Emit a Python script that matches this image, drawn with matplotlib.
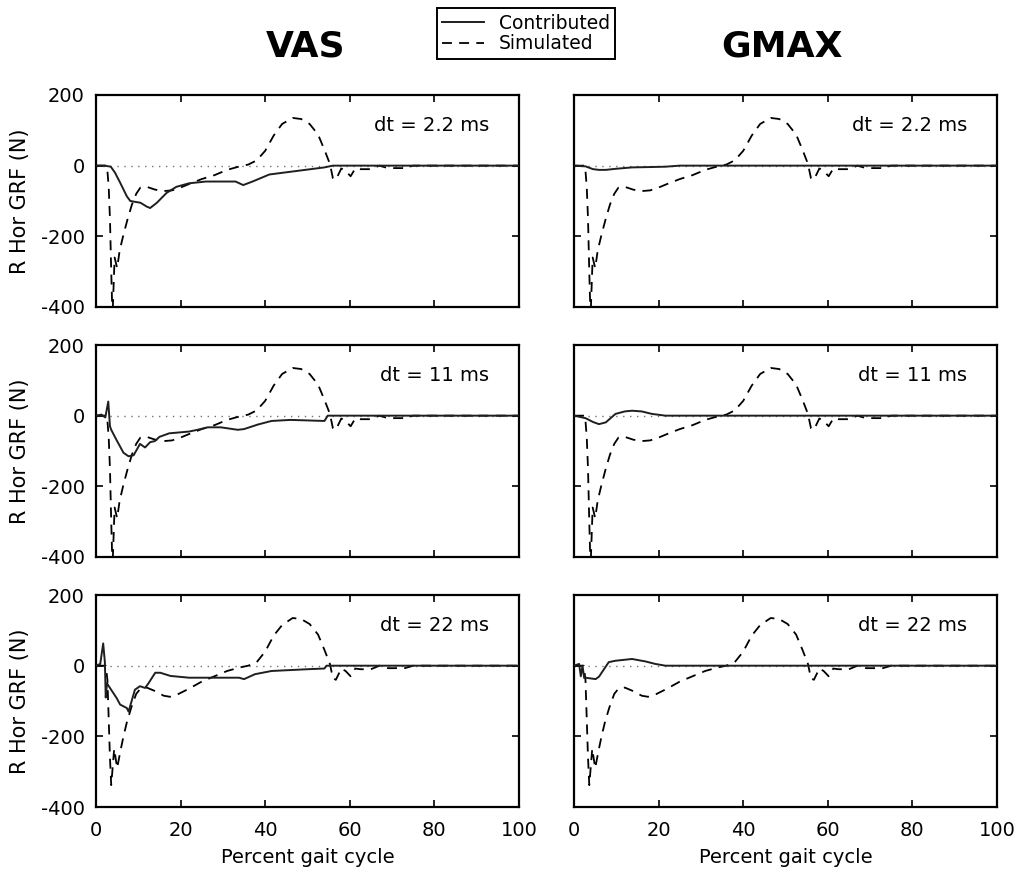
import matplotlib
matplotlib.use("Agg")
import matplotlib.pyplot as plt
from matplotlib.lines import Line2D

# simulated horizontal GRF (same curve in every panel, coarser in the dt = 22 ms row)
sim_x = [0, 2.6, 3.0, 3.3, 3.6, 3.9, 4.4, 5.0, 5.6, 6.5, 7.5, 8.5, 9.5, 10.5, 12, 14, 16, 18,
         20, 22, 25, 28, 31, 34, 36, 38, 40, 42, 44, 46.5, 48.5, 50.5, 52.5, 54, 55.3, 56,
         56.7, 58, 59, 60.2, 61.3, 62.5, 65, 67, 69, 71, 73, 75, 100]
sim_y = [0, 0, -60, -150, -300, -430, -260, -290, -240, -195, -150, -110, -80, -62, -60, -68,
         -72, -70, -62, -52, -38, -27, -12, -2, 3, 15, 42, 85, 118, 135, 132, 118, 88, 45, 5,
         -35, -40, -8, -15, -30, -8, -10, -10, 0, -7, -7, -7, 0, 0]

sim_coarse_x = [0, 2.3, 2.7, 3.0, 3.3, 3.6, 4.3, 5.0, 5.8, 6.5, 7.3, 8.3, 9.5, 10.5, 12, 14,
                16, 17.5, 19.5, 22, 25, 28, 31, 34, 36, 38, 40, 42, 44, 46.5, 48.5, 50.5, 52.5,
                54, 55.3, 56, 56.7, 58, 59, 60.2, 61.3, 62.5, 65, 67, 69, 71, 73, 75, 100]
sim_coarse_y = [0, 0, -40, -150, -260, -338, -235, -290, -240, -200, -160, -120, -80, -65, -62,
                -72, -85, -88, -80, -65, -45, -30, -15, -5, 0, 10, 40, 85, 115, 135, 132, 118,
                88, 45, 5, -35, -40, -8, -15, -30, -8, -10, -10, 0, -7, -7, -7, 0, 0]

# contributed GRF, VAS
vas_x = {
    "2.2": [0, 2, 3.5, 4.5, 5.7, 7.3, 8.1, 9.5, 10.5, 12, 12.8, 14.4, 16.7, 19, 22, 26, 30,
            33, 34.8, 37, 41, 47.5, 54, 56, 100],
    "11": [0, 1.3, 2.2, 2.9, 3.3, 3.6, 4.9, 6.5, 7.7, 8.9, 9.7, 10.4, 11.6, 12.8, 13.9, 15,
           17.3, 22, 24, 26.4, 29.5, 33.5, 35, 38.3, 41.5, 46, 54, 54.8, 100],
    "22": [0, 1.0, 1.7, 2.1, 2.3, 2.6, 3.3, 4.9, 5.7, 7.3, 7.7, 8.5, 9.2, 10.4, 11.6, 12.4,
           14, 15.2, 17.6, 22, 26, 33.8, 35, 37.6, 41.5, 50, 54, 54.5, 100],
}
vas_y = {
    "2.2": [0, 0, -3, -20, -48, -87, -100, -103, -105, -116, -120, -105, -77, -60, -50, -45,
            -45, -45, -55, -45, -25, -15, -5, 0, 0],
    "11": [0, 3, -5, 40, -30, -40, -70, -105, -115, -112, -95, -80, -90, -75, -72, -60, -50,
           -45, -40, -33, -33, -40, -38, -25, -15, -12, -15, 0, 0],
    "22": [0, 5, 63, 10, -90, -50, -63, -92, -110, -120, -130, -97, -68, -58, -63, -50, -20,
           -20, -29, -34, -34, -34, -38, -24, -15, -10, -8, 0, 0],
}

# contributed GRF, GMAX
gmax_x = {
    "2.2": [0, 2.7, 4.5, 5.9, 7.5, 9.8, 13.7, 18, 21.6, 25, 100],
    "11": [0, 2.7, 4.5, 5.9, 7.5, 9.8, 12, 13.7, 16, 18.4, 21.6, 100],
    "22": [0, 1.2, 1.6, 2.0, 2.4, 2.7, 5.1, 5.9, 8.2, 9.8, 13.7, 16.9, 19.2, 21.6, 100],
}
gmax_y = {
    "2.2": [0, -2, -10, -12, -12, -9, -5, -4, -3, 0, 0],
    "11": [0, -7, -18, -24, -19, 5, 12, 14, 12, 5, 0, 0],
    "22": [0, 5, -30, 0, -35, -34, -38, -31, 10, 14, 19, 12, 5, 0, 0],
}

time_steps = ["2.2", "11", "22"]
muscles = ["VAS", "GMAX"]
y_ticks = [-400, -200, 0, 200]
x_ticks = [0, 20, 40, 60, 80, 100]

DASH = (0, (5.5, 4.0))


def main():

    plt.rcParams["font.family"] = ["DejaVu Sans"]
    plt.rcParams["axes.unicode_minus"] = False

    fig = plt.figure(figsize=(10.18, 8.73), dpi=100)

    lefts = [0.0943, 0.5639]
    bottoms = [0.6484, 0.362, 0.0756]
    width, height = 0.4155, 0.2428

    for row, dt in enumerate(time_steps):
        for col, muscle in enumerate(muscles):
            ax = fig.add_axes([lefts[col], bottoms[row], width, height])
            ax.axhline(0, color="0.45", lw=1.0, ls=(0, (1, 4)), zorder=1)

            cx, cy = (vas_x, vas_y) if muscle == "VAS" else (gmax_x, gmax_y)
            ax.plot(cx[dt], cy[dt], color="0.12", lw=1.4, zorder=3)
            if dt == "22":
                ax.plot(sim_coarse_x, sim_coarse_y, color="black", lw=1.3, ls=DASH, zorder=2)
            else:
                ax.plot(sim_x, sim_y, color="black", lw=1.3, ls=DASH, zorder=2)

            ax.set_xlim(0, 100)
            ax.set_ylim(-400, 200)
            ax.set_xticks(x_ticks)
            ax.set_yticks(y_ticks)
            ax.tick_params(direction="in", length=5, width=1.2, top=True, right=True,
                           labelsize=14, pad=8)
            ax.tick_params(axis="x", pad=10)
            for spine in ax.spines.values():
                spine.set_linewidth(1.6)

            ax.text(0.93, 0.858, f"dt = {dt} ms", transform=ax.transAxes,
                    ha="right", va="center", fontsize=14)

            if col == 0:
                ax.set_ylabel("R Hor GRF (N)", fontsize=15)
                ax.yaxis.set_label_coords(-0.155, 0.5)
            else:
                ax.set_yticklabels([])
            if row == 2:
                ax.set_xlabel("Percent gait cycle", fontsize=14, labelpad=6)
            else:
                ax.set_xticklabels([])

    fig.text(0.3, 0.947, "VAS", ha="center", va="center", fontsize=26, fontweight="bold")
    fig.text(0.768, 0.947, "GMAX", ha="center", va="center", fontsize=26, fontweight="bold")

    handles = [
        Line2D([], [], color="0.12", lw=1.4),
        Line2D([], [], color="black", lw=1.3, ls=DASH),
    ]
    leg = fig.legend(handles, ["Contributed", "Simulated"], loc="center",
                     bbox_to_anchor=(0.5167, 0.9616), fontsize=13.5, frameon=True,
                     fancybox=False, edgecolor="black", framealpha=1, handlelength=2.2,
                     borderpad=0.3, labelspacing=0.1, handletextpad=0.8, borderaxespad=0)
    leg.get_frame().set_linewidth(1.4)

    fig.savefig("out.png", dpi=100)
    plt.close(fig)


if __name__ == "__main__":

    main()
